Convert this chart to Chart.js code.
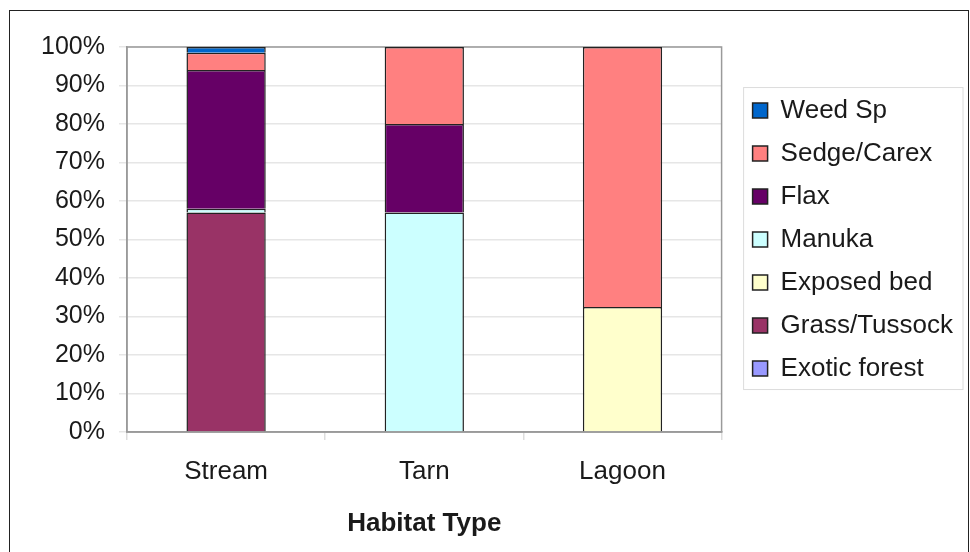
<!DOCTYPE html>
<html>
<head>
<meta charset="utf-8">
<script src="https://cdn.jsdelivr.net/npm/chart.js"></script>
<style>
  body { margin: 0; background: #fff; overflow: hidden; }
  .frame { position: absolute; left: 9px; top: 10px; width: 958px; height: 600px; border: 1.5px solid #222; }
  #myChart { position: absolute; left: 0; top: 0; }
</style>
</head>
<body>
<div class="frame"></div>
<canvas id="myChart" width="970" height="552"></canvas>
<script>
// data (bottom of the stack first)
const habitats = ["Stream", "Tarn", "Lagoon"];
const exoticForest = [0, 0, 0];
const grassTussock = [57, 0, 0];
const exposedBed = [0, 0, 32.5];
const manuka = [1, 57, 0];
const flax = [36, 23, 0];
const sedgeCarex = [4.5, 20, 67.5];
const weedSp = [1.5, 0, 0];
const yTicks = [0, 10, 20, 30, 40, 50, 60, 70, 80, 90, 100];

const fontFamily = "'Liberation Sans', Arial, sans-serif";
const textColor = "#1a1a1a";

function serie(label, data, color) {
  return {
    label: label,
    data: data,
    backgroundColor: color,
    borderColor: "#222",
    borderWidth: 1.5,
    barPercentage: 0.4,
    categoryPercentage: 1
  };
}

// plot area border + legend box
const molduras = {
  id: "molduras",
  beforeDatasetsDraw(chart) {
    const ctx = chart.ctx;
    const a = chart.chartArea;
    ctx.save();
    ctx.strokeStyle = "#9a9a9a";
    ctx.lineWidth = 1.5;
    ctx.strokeRect(a.left, a.top, a.right - a.left, a.bottom - a.top);
    ctx.restore();
  },
  afterDraw(chart) {
    const lg = chart.legend;
    if (!lg || !lg.legendHitBoxes.length) return;
    const hb = lg.legendHitBoxes;
    let right = 0;
    hb.forEach(h => { right = Math.max(right, h.left + h.width); });
    const left = hb[0].left - 9;
    const top = hb[0].top - 10;
    const last = hb[hb.length - 1];
    const bottom = last.top + last.height + 8;
    const ctx = chart.ctx;
    ctx.save();
    ctx.strokeStyle = "#dcdcdc";
    ctx.lineWidth = 1;
    ctx.strokeRect(left, top, right + 10 - left, bottom - top);
    ctx.restore();
  }
};

const ctx = document.getElementById("myChart");
new Chart(ctx, {
  type: "bar",
  data: {
    labels: habitats,
    datasets: [
      serie("Exotic forest", exoticForest, "#9999FF"),
      serie("Grass/Tussock", grassTussock, "#993366"),
      serie("Exposed bed", exposedBed, "#FFFFCC"),
      serie("Manuka", manuka, "#CCFFFF"),
      serie("Flax", flax, "#660066"),
      serie("Sedge/Carex", sedgeCarex, "#FF8080"),
      serie("Weed Sp", weedSp, "#0066CC")
    ]
  },
  options: {
    responsive: false,
    animation: false,
    layout: { padding: { left: 41, right: 7, top: 47, bottom: 0 } },
    plugins: {
      tooltip: { enabled: false },
      legend: {
        position: "right",
        fullSize: false,
        reverse: true,
        maxWidth: 260,
        labels: {
          boxWidth: 15,
          boxHeight: 15,
          padding: 17,
          color: textColor,
          font: { family: fontFamily, size: 26 }
        }
      }
    },
    scales: {
      x: {
        stacked: true,
        offset: true,
        grid: { offset: true, drawOnChartArea: false, tickLength: 8, color: "#dddddd", lineWidth: 1.5 },
        border: { color: "#9a9a9a", width: 1.5 },
        ticks: { padding: 16.5, color: textColor, font: { family: fontFamily, size: 26 } },
        title: {
          display: true,
          text: "Habitat Type",
          color: textColor,
          padding: { top: 4, bottom: 12.5 },
          font: { family: fontFamily, size: 26, weight: "bold" }
        }
      },
      y: {
        stacked: true,
        min: 0,
        max: 100,
        afterBuildTicks(scale) {
          scale.ticks = yTicks.map(v => ({ value: v }));
        },
        afterFit(scale) { scale.width = 86; },
        grid: { color: "#e6e6e6", lineWidth: 1.5, tickLength: 8 },
        border: { color: "#9a9a9a", width: 1.5 },
        ticks: {
          padding: 14,
          color: textColor,
          font: { family: fontFamily, size: 25 },
          callback: v => v + "%"
        }
      },
      gap: {
        type: "linear",
        position: "right",
        grid: { display: false },
        border: { display: false },
        ticks: { display: false },
        afterFit(scale) { scale.width = 14; }
      }
    }
  },
  plugins: [molduras]
});
</script>
</body>
</html>
